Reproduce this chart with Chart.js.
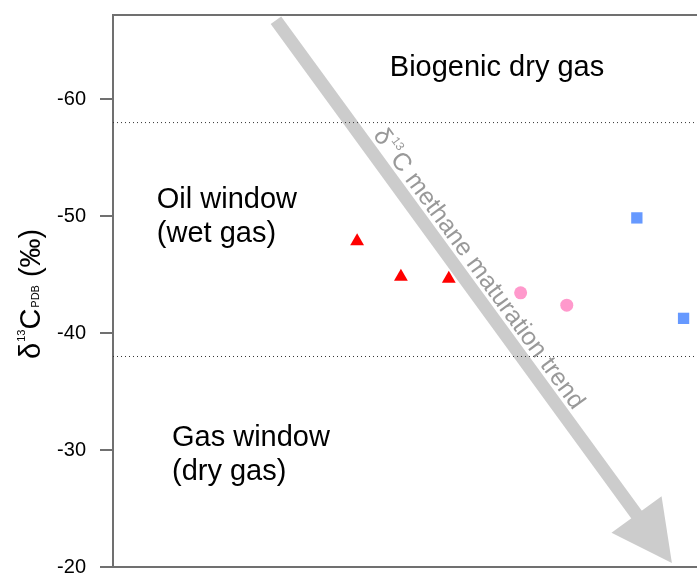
<!DOCTYPE html>
<html lang="en">
<head>
    <meta charset="UTF-8">
    <title>Methane carbon isotopes</title>
    <script src="https://cdn.jsdelivr.net/npm/chart.js"></script>
    <style>
        body { margin: 0; background: #fff; }
        .chart-container { width: 697px; height: 575px; position: relative; }
    </style>
</head>
<body>
    <div class="chart-container">
        <canvas id="isotopeChart"></canvas>
    </div>

    <script>
        // sample positions (x is just an ordering, y is δ13C in ‰)
        const triX = [4.18, 4.93, 5.75];
        const triY = [-47.85, -44.82, -44.64];
        const circX = [6.98, 7.77];
        const circY = [-43.44, -42.39];
        const sqX = [8.97, 9.77];
        const sqY = [-49.85, -41.26];

        // axis + zone boundaries
        const yTicks = [-60, -50, -40, -30, -20];
        const zoneBounds = [-58, -38];

        // maturation trend arrow (x, y in data units)
        const trendStart = [2.79, -66.75];
        const trendEnd = [9.57, -20.34];

        // zone labels: [x, y, lines]
        const zoneLabels = [
            [4.74, -62.7, ['Biogenic dry gas']],
            [0.75, -51.4, ['Oil window', '(wet gas)']],
            [1.01, -31.05, ['Gas window', '(dry gas)']]
        ];

        const FONT = "'Liberation Sans', Arial, sans-serif";

        function pts(xs, ys) {
            return xs.map((x, i) => ({ x: x, y: ys[i] }));
        }

        const extras = {
            id: 'extras',
            beforeDatasetsDraw(chart) {
                const ctx = chart.ctx;
                const xs = chart.scales.x, ys = chart.scales.y;
                const area = chart.chartArea;

                // top frame line
                ctx.save();
                ctx.strokeStyle = '#707070';
                ctx.lineWidth = 2;
                ctx.beginPath();
                ctx.moveTo(area.left - 1, area.top);
                ctx.lineTo(area.right, area.top);
                ctx.stroke();
                ctx.restore();

                // zone labels
                ctx.save();
                ctx.fillStyle = '#000';
                ctx.font = '29px ' + FONT;
                ctx.textBaseline = 'middle';
                ctx.textAlign = 'left';
                zoneLabels.forEach(l => {
                    const px = xs.getPixelForValue(l[0]);
                    const py = ys.getPixelForValue(l[1]);
                    l[2].forEach((t, i) => ctx.fillText(t, px, py + i * 34));
                });
                ctx.restore();

                // trend arrow
                const x0 = xs.getPixelForValue(trendStart[0]), y0 = ys.getPixelForValue(trendStart[1]);
                const x1 = xs.getPixelForValue(trendEnd[0]), y1 = ys.getPixelForValue(trendEnd[1]);
                const ang = Math.atan2(y1 - y0, x1 - x0);
                const len = Math.hypot(x1 - x0, y1 - y0);
                const headLen = 60, headHalf = 31, shaft = 13;
                ctx.save();
                ctx.translate(x0, y0);
                ctx.rotate(ang);
                ctx.fillStyle = '#cccccc';
                ctx.fillRect(0, -shaft / 2, len - headLen + 2, shaft);
                ctx.beginPath();
                ctx.moveTo(len, 0);
                ctx.lineTo(len - headLen, -headHalf);
                ctx.lineTo(len - headLen, headHalf);
                ctx.closePath();
                ctx.fill();

                // label along the arrow
                ctx.fillStyle = '#999999';
                ctx.textBaseline = 'alphabetic';
                let tx = 150;
                const ty = -10;
                ctx.font = '25px ' + FONT;
                ctx.fillText('δ', tx, ty);
                tx += ctx.measureText('δ').width + 1;
                ctx.font = '12px ' + FONT;
                ctx.fillText('13', tx, ty - 12);
                tx += ctx.measureText('13').width + 1;
                ctx.font = '25px ' + FONT;
                ctx.fillText('C methane maturation trend', tx, ty);
                ctx.restore();
            },
            afterDraw(chart) {
                // y axis title: δ13C(PDB) (‰)
                const ctx = chart.ctx;
                ctx.save();
                ctx.translate(40, 359);
                ctx.rotate(-Math.PI / 2);
                ctx.fillStyle = '#000';
                ctx.textBaseline = 'alphabetic';
                let tx = 0;
                ctx.font = '29px ' + FONT;
                ctx.fillText('δ', tx, 0);
                tx += ctx.measureText('δ').width + 1;
                ctx.font = '11px ' + FONT;
                ctx.fillText('13', tx, -15);
                tx += ctx.measureText('13').width;
                ctx.font = '29px ' + FONT;
                ctx.fillText('C', tx, 0);
                tx += ctx.measureText('C').width + 1;
                ctx.font = '11px ' + FONT;
                ctx.fillText('PDB', tx, -1);
                tx += ctx.measureText('PDB').width + 8;
                ctx.font = '29px ' + FONT;
                ctx.fillText('(‰)', tx, 0);
                ctx.restore();
            }
        };

        const ctx = document.getElementById('isotopeChart').getContext('2d');
        new Chart(ctx, {
            type: 'scatter',
            data: {
                datasets: [
                    {
                        data: pts(triX, triY),
                        pointStyle: 'triangle',
                        pointRadius: 8,
                        backgroundColor: '#ff0000',
                        pointBorderWidth: 0
                    },
                    {
                        data: pts(circX, circY),
                        pointStyle: 'circle',
                        pointRadius: 6.5,
                        backgroundColor: '#ff99cc',
                        pointBorderWidth: 0
                    },
                    {
                        data: pts(sqX, sqY),
                        pointStyle: 'rect',
                        pointRadius: 8,
                        backgroundColor: '#6699ff',
                        pointBorderWidth: 0
                    },
                    // dotted zone boundaries
                    ...zoneBounds.map(v => ({
                        type: 'line',
                        data: [{ x: 0, y: v }, { x: 10, y: v }],
                        borderColor: '#333',
                        borderWidth: 1,
                        borderDash: [1, 3],
                        pointRadius: 0
                    }))
                ]
            },
            options: {
                responsive: true,
                maintainAspectRatio: false,
                animation: false,
                layout: { autoPadding: false, padding: { top: 15, right: 0, bottom: 0, left: 0 } },
                plugins: {
                    legend: { display: false },
                    tooltip: { enabled: false }
                },
                scales: {
                    x: {
                        type: 'linear',
                        min: 0,
                        max: 10,
                        ticks: { display: false },
                        grid: { display: false },
                        border: { display: true, color: '#707070', width: 2 },
                        afterFit: s => { s.height = 8; }
                    },
                    y: {
                        min: -67.2,
                        max: -20,
                        reverse: true,
                        afterBuildTicks: s => { s.ticks = yTicks.map(v => ({ value: v })); },
                        ticks: {
                            color: '#000',
                            padding: 14,
                            font: { family: FONT, size: 20 }
                        },
                        grid: {
                            display: true,
                            drawOnChartArea: false,
                            drawTicks: true,
                            tickLength: 13,
                            color: '#707070',
                            lineWidth: 2
                        },
                        border: { display: true, color: '#707070', width: 2 },
                        afterFit: s => { s.width = 113; s.paddingTop = 0; s.paddingBottom = 0; }
                    }
                }
            },
            plugins: [extras]
        });
    </script>
</body>
</html>
